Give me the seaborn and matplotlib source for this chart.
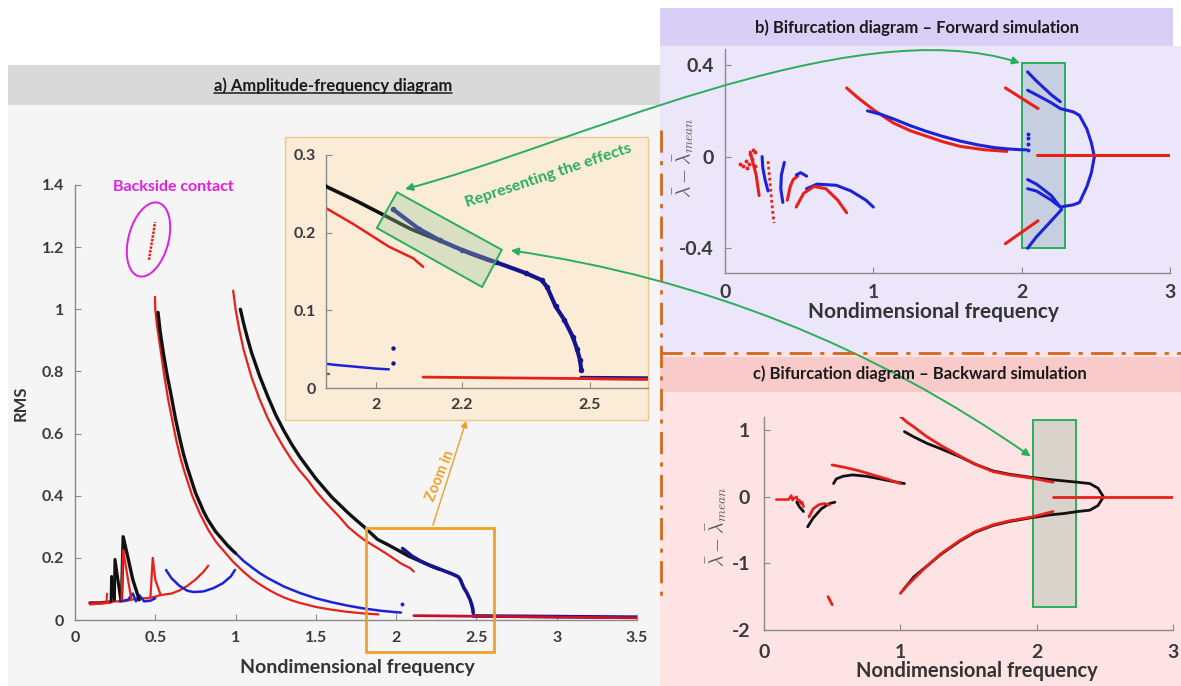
import numpy as np
import matplotlib
matplotlib.use("Agg")
import matplotlib.pyplot as plt
import seaborn as sns
from matplotlib.patches import Rectangle, Polygon, FancyArrowPatch
from matplotlib.path import Path
from matplotlib.lines import Line2D

# ---------------- data ----------------
# a) amplitude-frequency diagram (RMS vs nondimensional frequency)
a_red1_x = [0.498, 0.50, 0.51, 0.53, 0.555, 0.58, 0.605, 0.63, 0.655, 0.68, 0.705, 0.73, 0.755, 0.78, 0.805, 0.83,
            0.855, 0.88, 0.905, 0.93, 0.955, 0.98, 1.0, 1.05, 1.1, 1.15, 1.2, 1.25, 1.3, 1.35, 1.4, 1.5, 1.6, 1.7, 1.8, 1.89]
a_red1_y = [1.04, 1.0, 0.95, 0.88, 0.79, 0.71, 0.645, 0.58, 0.525, 0.48, 0.44, 0.40, 0.37, 0.34, 0.315, 0.29,
            0.27, 0.25, 0.235, 0.22, 0.205, 0.19, 0.18, 0.155, 0.133, 0.115, 0.099, 0.085, 0.073, 0.063, 0.055, 0.042, 0.033, 0.026, 0.021, 0.018]
a_blk1_x = [0.517, 0.53, 0.55, 0.575, 0.6, 0.625, 0.65, 0.675, 0.7, 0.725, 0.75, 0.775, 0.8, 0.825, 0.85, 0.875,
            0.9, 0.925, 0.95, 0.975, 1.0]
a_blk1_y = [0.99, 0.93, 0.86, 0.785, 0.72, 0.65, 0.59, 0.535, 0.49, 0.45, 0.41, 0.38, 0.35, 0.325, 0.305, 0.285,
            0.27, 0.255, 0.24, 0.227, 0.215]
a_blu1_x = [1.0, 1.05, 1.1, 1.15, 1.2, 1.3, 1.4, 1.5, 1.6, 1.7, 1.8, 1.9, 2.0, 2.03]
a_blu1_y = [0.215, 0.19, 0.17, 0.151, 0.135, 0.108, 0.087, 0.07, 0.057, 0.046, 0.037, 0.030, 0.025, 0.024]
a_red2_x = [0.985, 1.0, 1.025, 1.05, 1.1, 1.15, 1.2, 1.25, 1.3, 1.35, 1.4, 1.45, 1.5, 1.55, 1.6, 1.65, 1.7, 1.75,
            1.8, 1.885, 1.95, 2.03, 2.087, 2.11]
a_red2_y = [1.06, 1.0, 0.93, 0.87, 0.78, 0.71, 0.65, 0.60, 0.555, 0.515, 0.48, 0.45, 0.415, 0.385, 0.357, 0.33,
            0.30, 0.278, 0.258, 0.231, 0.21, 0.182, 0.167, 0.156]
a_blk2_x = [1.03, 1.05, 1.075, 1.1, 1.15, 1.2, 1.25, 1.3, 1.35, 1.4, 1.45, 1.5, 1.55, 1.6, 1.65, 1.7, 1.75, 1.8,
            1.885, 1.95, 2.01, 2.08, 2.165, 2.22, 2.27]
a_blk2_y = [1.0, 0.955, 0.905, 0.86, 0.785, 0.72, 0.66, 0.61, 0.565, 0.525, 0.49, 0.455, 0.425, 0.395, 0.37, 0.345,
            0.322, 0.30, 0.259, 0.242, 0.225, 0.205, 0.186, 0.173, 0.163]
a_blu2_x = [2.04, 2.1, 2.15, 2.2, 2.28, 2.35, 2.387, 2.40, 2.42, 2.44, 2.46, 2.47, 2.477, 2.48]
a_blu2_y = [0.23, 0.205, 0.19, 0.178, 0.162, 0.148, 0.139, 0.13, 0.105, 0.088, 0.066, 0.05, 0.036, 0.023]
a_bluflat_x = [2.48, 3.5]
a_bluflat_y = [0.013, 0.009]
a_redflat_x = [2.11, 3.5]
a_redflat_y = [0.014, 0.007]
a_bludot_x = [2.039, 2.039]
a_bludot_y = [0.052, 0.032]
a_back_x = [0.461, 0.47, 0.48, 0.49, 0.498]
a_back_y = [1.159, 1.19, 1.22, 1.25, 1.281]
# low frequency cluster
a_base_x = [0.093, 0.15, 0.22]
a_base_y = [0.055, 0.055, 0.058]
a_redlow_x = [0.093, 0.2, 0.25, 0.3, 0.35, 0.4, 0.45, 0.5, 0.53]
a_redlow_y = [0.05, 0.055, 0.06, 0.06, 0.065, 0.07, 0.07, 0.075, 0.08]
a_k1_x = [0.225, 0.228, 0.245]
a_k1_y = [0.06, 0.14, 0.07]
a_k2_x = [0.245, 0.249, 0.285]
a_k2_y = [0.065, 0.195, 0.065]
a_k3_x = [0.29, 0.30, 0.33, 0.36, 0.40]
a_k3_y = [0.07, 0.268, 0.2, 0.13, 0.065]
a_r1_x = [0.29, 0.30, 0.33, 0.35]
a_r1_y = [0.065, 0.225, 0.13, 0.07]
a_r2_x = [0.47, 0.484, 0.50, 0.53]
a_r2_y = [0.075, 0.20, 0.13, 0.085]
a_r3_x = [0.195, 0.20]
a_r3_y = [0.055, 0.085]
a_bl_x = [0.28, 0.33, 0.36, 0.38, 0.40, 0.43, 0.47, 0.50]
a_bl_y = [0.06, 0.065, 0.085, 0.06, 0.08, 0.06, 0.062, 0.07]
a_bu_x = [0.567, 0.6, 0.65, 0.70, 0.74, 0.80, 0.86, 0.92, 0.97, 0.996]
a_bu_y = [0.161, 0.135, 0.11, 0.094, 0.09, 0.092, 0.102, 0.118, 0.14, 0.161]
a_rarc_x = [0.53, 0.6, 0.65, 0.7, 0.75, 0.8, 0.83]
a_rarc_y = [0.08, 0.085, 0.095, 0.11, 0.13, 0.155, 0.175]
# tilted highlight box inside the inset (data corners)
a_box_x = [2.049, 2.294, 2.248, 2.002]
a_box_y = [0.252, 0.178, 0.130, 0.206]

# b) forward simulation
b_red_x = [0.82, 0.9, 1.0, 1.135, 1.25, 1.36, 1.47, 1.585, 1.75, 1.9]
b_red_y = [0.30, 0.255, 0.205, 0.147, 0.113, 0.089, 0.065, 0.045, 0.03, 0.023]
b_blu_x = [0.96, 1.05, 1.135, 1.25, 1.36, 1.47, 1.585, 1.7, 1.81, 1.9, 2.0, 2.03]
b_blu_y = [0.20, 0.185, 0.165, 0.135, 0.11, 0.088, 0.068, 0.052, 0.04, 0.034, 0.03, 0.03]
b_bdot_x = [2.04, 2.04, 2.045, 2.045]
b_bdot_y = [0.03, 0.055, 0.08, 0.1]
b_up1_x = [2.04, 2.1, 2.2, 2.26]
b_up1_y = [0.37, 0.33, 0.27, 0.24]
b_up2_x = [2.04, 2.1, 2.2, 2.26, 2.35, 2.39, 2.44, 2.47, 2.49]
b_up2_y = [0.29, 0.27, 0.235, 0.21, 0.195, 0.18, 0.12, 0.06, 0.0]
b_lo1_x = [2.04, 2.1, 2.2, 2.26]
b_lo1_y = [-0.10, -0.12, -0.17, -0.22]
b_lo2_x = [2.04, 2.1, 2.2, 2.26, 2.35, 2.39, 2.44, 2.47, 2.49]
b_lo2_y = [-0.14, -0.15, -0.19, -0.22, -0.21, -0.20, -0.13, -0.07, 0.0]
b_lo3_x = [2.04, 2.1, 2.2, 2.27]
b_lo3_y = [-0.40, -0.35, -0.28, -0.23]
b_rs1_x = [1.89, 2.0, 2.11]
b_rs1_y = [0.30, 0.255, 0.21]
b_rs2_x = [1.89, 2.0, 2.11]
b_rs2_y = [-0.38, -0.33, -0.28]
b_rflat_x = [2.1, 3.0]
b_rflat_y = [0.006, 0.006]
b_rdots_x = [0.10, 0.12, 0.14, 0.15, 0.16, 0.17, 0.18, 0.19, 0.20, 0.20]
b_rdots_y = [-0.03, -0.04, -0.02, -0.05, -0.03, 0.01, -0.01, 0.03, -0.04, 0.02]
b_ra_x = [0.17, 0.19, 0.21, 0.23]
b_ra_y = [0.02, -0.03, -0.08, -0.17]
b_bb_x = [0.25, 0.255, 0.27, 0.29]
b_bb_y = [0.0, -0.05, -0.10, -0.15]
b_rc_x = [0.29, 0.30, 0.31, 0.32, 0.33]
b_rc_y = [-0.02, -0.09, -0.16, -0.23, -0.29]
b_bd_x = [0.40, 0.38, 0.376, 0.39]
b_bd_y = [-0.025, -0.08, -0.14, -0.20]
b_re_x = [0.42, 0.44, 0.46, 0.49]
b_re_y = [-0.19, -0.13, -0.10, -0.085]
b_bf_x = [0.48, 0.51, 0.55]
b_bf_y = [-0.08, -0.07, -0.085]
b_bbig_x = [0.55, 0.62, 0.75, 0.85, 0.95, 1.0]
b_bbig_y = [-0.14, -0.12, -0.125, -0.15, -0.19, -0.22]
b_rbig_x = [0.48, 0.53, 0.60, 0.68, 0.76, 0.82]
b_rbig_y = [-0.22, -0.16, -0.13, -0.14, -0.19, -0.245]

# c) backward simulation
c_red_up_x = [1.0, 1.05, 1.1, 1.19, 1.3, 1.44, 1.55, 1.68, 1.8, 1.97, 2.12]
c_red_up_y = [1.21, 1.12, 1.05, 0.91, 0.77, 0.61, 0.49, 0.38, 0.33, 0.28, 0.22]
c_red_lo_x = [1.0, 1.05, 1.1, 1.19, 1.3, 1.44, 1.55, 1.68, 1.8, 1.97, 2.12]
c_red_lo_y = [-1.45, -1.33, -1.23, -1.05, -0.85, -0.65, -0.52, -0.42, -0.36, -0.30, -0.22]
c_blk_x = [1.03, 1.1, 1.2, 1.3, 1.44, 1.55, 1.68, 1.8, 1.97, 2.1, 2.2, 2.3, 2.39, 2.45, 2.49,
           2.45, 2.39, 2.3, 2.2, 2.1, 1.97, 1.8, 1.68, 1.55, 1.44, 1.3, 1.2, 1.1, 1.02]
c_blk_y = [0.98, 0.9, 0.8, 0.72, 0.6, 0.49, 0.39, 0.34, 0.29, 0.26, 0.24, 0.22, 0.20, 0.13, 0.0,
           -0.13, -0.20, -0.22, -0.25, -0.27, -0.31, -0.37, -0.43, -0.53, -0.66, -0.86, -1.03, -1.2, -1.40]
c_rflat_x = [2.12, 3.0]
c_rflat_y = [0.0, 0.0]
c_rmid_x = [0.5, 0.6, 0.7, 0.8, 0.9, 1.0]
c_rmid_y = [0.48, 0.44, 0.39, 0.33, 0.27, 0.2]
c_kmid_x = [0.51, 0.53, 0.58, 0.65, 0.75, 0.85, 0.95, 1.03]
c_kmid_y = [0.2, 0.27, 0.31, 0.33, 0.31, 0.27, 0.23, 0.2]
c_rshort_x = [0.47, 0.50]
c_rshort_y = [-1.5, -1.62]
c_rbase_x = [0.09, 0.14, 0.18, 0.2, 0.21, 0.22, 0.24, 0.25, 0.26, 0.27, 0.28, 0.29]
c_rbase_y = [-0.04, -0.04, -0.04, 0.02, -0.05, -0.02, 0.0, -0.08, -0.05, -0.1, -0.08, -0.15]
c_k1_x = [0.24, 0.26, 0.29]
c_k1_y = [-0.08, -0.15, -0.22]
c_k2_x = [0.32, 0.36, 0.42, 0.48, 0.52]
c_k2_y = [-0.45, -0.32, -0.18, -0.1, -0.08]
c_r2_x = [0.33, 0.36, 0.40, 0.44, 0.48]
c_r2_y = [-0.30, -0.18, -0.12, -0.10, -0.12]

RED = "#e8201a"
BLK = "#111111"
BLU = "#1c22d6"
NAVY = "#14148f"
GRN = "#2aae5c"
ORG = "#f0a028"

W, H = 1181, 686


def fx(px):
    return px / W


def fy(py):
    return 1 - py / H


def fig_rect(x0, y0, x1, y1, **kw):
    fig.add_artist(Rectangle((fx(x0), fy(y1)), (x1 - x0) / W, (y1 - y0) / H,
                             transform=fig.transFigure, zorder=-10, **kw))


def make_axes(l, t, r, b):
    return fig.add_axes([fx(l), fy(b), (r - l) / W, (b - t) / H])


def line(ax, xs, ys, color, lw, ls="-", z=2):
    sns.lineplot(x=xs, y=ys, ax=ax, color=color, linewidth=lw, linestyle=ls,
                 sort=False, estimator=None, zorder=z)


def dots(ax, xs, ys, color, s=6):
    sns.scatterplot(x=xs, y=ys, ax=ax, color=color, s=s, linewidth=0, zorder=3)


def style(ax, fs, pad):
    ax.set_facecolor("none")
    for s in ["top", "right"]:
        ax.spines[s].set_visible(False)
    for s in ["left", "bottom"]:
        ax.spines[s].set_color("#8a8a8a")
        ax.spines[s].set_linewidth(1.0)
    ax.tick_params(direction="in", length=4, width=0.8, color="#8a8a8a",
                   labelsize=fs, labelcolor="#3a3a3a", pad=pad,
                   left=True, bottom=True)
    for lab in ax.get_xticklabels() + ax.get_yticklabels():
        lab.set_fontweight("bold")
    ax.set_xlabel("")
    ax.set_ylabel("")
    ax.grid(False)


sns.set_theme(style="white")
plt.rcParams["font.family"] = ["Lato", "DejaVu Sans"]
plt.rcParams["font.weight"] = "bold"
plt.rcParams["mathtext.fontset"] = "cm"

fig = plt.figure(figsize=(11.81, 6.86), dpi=100)
fig.patch.set_facecolor("white")

# ---- backgrounds ----
fig_rect(8, 105, 660, 686, facecolor="#f5f5f5", edgecolor="none")
fig_rect(8, 65, 660, 105, facecolor="#d9d9d9", edgecolor="none")
fig_rect(660, 46, 1181, 352, facecolor="#ece6fa", edgecolor="none")
fig_rect(660, 8, 1173, 46, facecolor="#d9cef5", edgecolor="none")
fig_rect(660, 352, 1181, 686, facecolor="#fde3e3", edgecolor="none")
fig_rect(660, 357, 1181, 392, facecolor="#f9caca", edgecolor="none")
fig_rect(285, 137, 648, 420, facecolor="#fbecd8", edgecolor="#f2c68e", linewidth=1.0)

# dash-dot separators
fig.add_artist(Line2D([fx(660), fx(1181)], [fy(353), fy(353)], transform=fig.transFigure,
                      color="#d2691e", lw=2, ls=(0, (8, 3, 1.5, 3))))
fig.add_artist(Line2D([fx(661), fx(661)], [fy(130), fy(600)], transform=fig.transFigure,
                      color="#d2691e", lw=2, ls=(0, (8, 3, 1.5, 3))))

# ---- a) main axes ----
axa = make_axes(75, 185, 637, 620)
line(axa, a_base_x, a_base_y, "#a01020", 2.5)
line(axa, a_redlow_x, a_redlow_y, RED, 1.6)
line(axa, a_r3_x, a_r3_y, RED, 1.4)
line(axa, a_bl_x, a_bl_y, BLU, 1.8)
line(axa, a_k1_x, a_k1_y, BLK, 2.2)
line(axa, a_k2_x, a_k2_y, BLK, 2.2)
line(axa, a_k3_x, a_k3_y, BLK, 2.4)
line(axa, a_r1_x, a_r1_y, RED, 1.6)
line(axa, a_r2_x, a_r2_y, RED, 1.6)
line(axa, a_rarc_x, a_rarc_y, RED, 1.6)
line(axa, a_bu_x, a_bu_y, BLU, 1.8)
line(axa, a_red1_x, a_red1_y, RED, 1.6)
line(axa, a_blk1_x, a_blk1_y, BLK, 2.4, z=3)
line(axa, a_blu1_x, a_blu1_y, BLU, 1.8)
line(axa, a_red2_x, a_red2_y, RED, 1.6)
line(axa, a_blk2_x, a_blk2_y, BLK, 2.4, z=3)
line(axa, a_blu2_x, a_blu2_y, NAVY, 2.6, z=4)
line(axa, a_bluflat_x, a_bluflat_y, NAVY, 2.6)
line(axa, a_redflat_x, a_redflat_y, "#c8102e", 2.0, z=3)
dots(axa, a_bludot_x[:1], a_bludot_y[:1], BLU, 8)
line(axa, a_back_x, a_back_y, RED, 1.8, ls=(0, (1, 0.5)))
axa.set_xlim(0, 3.5)
axa.set_ylim(0, 1.4)
axa.set_xticks([0, 0.5, 1, 1.5, 2, 2.5, 3, 3.5])
axa.set_xticklabels(["0", "0.5", "1", "1.5", "2", "2.5", "3", "3.5"])
axa.set_yticks([0, 0.2, 0.4, 0.6, 0.8, 1.0, 1.2, 1.4])
axa.set_yticklabels(["0", "0.2", "0.4", "0.6", "0.8", "1", "1.2", "1.4"])
style(axa, 11.5, 8)
axa.add_patch(Rectangle((1.81, -0.103), 0.8, 0.399, fill=False, edgecolor=ORG,
                        lw=2, clip_on=False, zorder=5))

# backside contact ellipse (drawn in pixel space)
t = np.linspace(0, 2 * np.pi, 120)
th = np.deg2rad(15)
u, v = 20 * np.cos(t), 38 * np.sin(t)
ex = 148.5 + u * np.cos(th) - v * np.sin(th)
ey = 239.5 + u * np.sin(th) + v * np.cos(th)
fig.add_artist(Line2D(fx(ex), fy(ey), transform=fig.transFigure, color="#e020e0", lw=1.4))

# ---- a) inset ----
axi = make_axes(326, 155, 648, 388)
line(axi, a_red1_x, a_red1_y, RED, 1.6)
line(axi, a_red2_x, a_red2_y, RED, 1.8)
line(axi, a_blk2_x, a_blk2_y, BLK, 2.6, z=3)
line(axi, a_blu1_x, a_blu1_y, BLU, 1.8)
line(axi, a_redflat_x, a_redflat_y, RED, 2.0, z=3)
line(axi, a_bluflat_x, a_bluflat_y, NAVY, 3.0)
sns.lineplot(x=a_blu2_x, y=a_blu2_y, ax=axi, color=NAVY, linewidth=3.0, sort=False,
             estimator=None, marker="o", markersize=4, markeredgewidth=0, zorder=4)
dots(axi, a_bludot_x, a_bludot_y, NAVY, 10)
axi.add_patch(Polygon(list(zip(a_box_x, a_box_y)), closed=True, facecolor="#9cc79a",
                      alpha=0.35, edgecolor="none", zorder=5))
axi.add_patch(Polygon(list(zip(a_box_x, a_box_y)), closed=True, fill=False,
                      edgecolor=GRN, lw=1.4, zorder=6))
axi.set_xlim(1.883, 2.636)
axi.set_ylim(0, 0.3)
axi.set_xticks([2, 2.2, 2.5])
axi.set_xticklabels(["2", "2.2", "2.5"])
axi.set_yticks([0, 0.1, 0.2, 0.3])
axi.set_yticklabels(["0", "0.1", "0.2", "0.3"])
style(axi, 11.5, 7)

# ---- b) forward ----
axb = make_axes(725, 49, 1170, 273)
axb.add_patch(Rectangle((2.0, -0.4), 0.29, 0.807, facecolor="#c6cfe0", edgecolor=GRN,
                        lw=1.4, zorder=1))
for xs, ys, c in [(b_red_x, b_red_y, RED), (b_blu_x, b_blu_y, BLU),
                  (b_up1_x, b_up1_y, BLU), (b_up2_x, b_up2_y, BLU),
                  (b_lo1_x, b_lo1_y, BLU), (b_lo2_x, b_lo2_y, BLU),
                  (b_lo3_x, b_lo3_y, BLU), (b_rs1_x, b_rs1_y, RED),
                  (b_rs2_x, b_rs2_y, RED), (b_rflat_x, b_rflat_y, RED),
                  (b_ra_x, b_ra_y, RED), (b_bb_x, b_bb_y, BLU),
                  (b_bd_x, b_bd_y, BLU), (b_re_x, b_re_y, RED),
                  (b_bf_x, b_bf_y, BLU), (b_bbig_x, b_bbig_y, BLU),
                  (b_rbig_x, b_rbig_y, RED)]:
    line(axb, xs, ys, c, 2.2)
line(axb, b_rc_x, b_rc_y, RED, 2.0, ls=(0, (1, 1)))
dots(axb, b_rdots_x, b_rdots_y, RED, 8)
dots(axb, b_bdot_x, b_bdot_y, BLU, 8)
axb.set_xlim(0, 3)
axb.set_ylim(-0.508, 0.47)
axb.set_xticks([0, 1, 2, 3])
axb.set_xticklabels(["0", "1", "2", "3"])
axb.set_yticks([-0.4, 0, 0.4])
axb.set_yticklabels(["-0.4", "0", "0.4"])
style(axb, 14, 8)

# ---- c) backward ----
axc = make_axes(764, 417, 1173, 630)
axc.add_patch(Rectangle((1.97, -1.65), 0.32, 2.81, facecolor="#d9d3cc", edgecolor=GRN,
                        lw=1.4, zorder=1))
line(axc, c_blk_x, c_blk_y, BLK, 2.0)
line(axc, c_red_up_x, c_red_up_y, RED, 2.0, z=3)
line(axc, c_red_lo_x, c_red_lo_y, RED, 2.0, z=3)
line(axc, c_rflat_x, c_rflat_y, RED, 2.0)
line(axc, c_kmid_x, c_kmid_y, BLK, 2.0)
line(axc, c_rmid_x, c_rmid_y, RED, 2.0, z=3)
line(axc, c_rshort_x, c_rshort_y, RED, 2.0)
line(axc, c_rbase_x, c_rbase_y, RED, 1.8)
line(axc, c_k1_x, c_k1_y, BLK, 2.0)
line(axc, c_k2_x, c_k2_y, BLK, 2.0)
line(axc, c_r2_x, c_r2_y, RED, 2.0, z=3)
axc.set_xlim(0, 3)
axc.set_ylim(-2, 1.2)
axc.set_xticks([0, 1, 2, 3])
axc.set_xticklabels(["0", "1", "2", "3"])
axc.set_yticks([-2, -1, 0, 1])
axc.set_yticklabels(["-2", "-1", "0", "1"])
style(axc, 14, 10)

# ---- texts ----
ta = fig.text(fx(333), fy(86), "a) Amplitude-frequency diagram", ha="center", va="center",
              fontsize=12, color="#1a1a1a")
fig.text(fx(917), fy(28), "b) Bifurcation diagram \u2013 Forward simulation", ha="center",
         va="center", fontsize=12, color="#1a1a1a")
fig.text(fx(920), fy(374), "c) Bifurcation diagram \u2013 Backward simulation", ha="center",
         va="center", fontsize=12, color="#1a1a1a")
fig.text(fx(21), fy(403), "RMS", rotation=90, ha="center", va="center", fontsize=12,
         color="#333333")
fig.text(fx(357), fy(668), "Nondimensional frequency", ha="center", va="center",
         fontsize=14, color="#333333")
fig.text(fx(933), fy(312), "Nondimensional frequency", ha="center", va="center",
         fontsize=15, color="#333333")
fig.text(fx(977), fy(671), "Nondimensional frequency", ha="center", va="center",
         fontsize=14.5, color="#333333")
fig.text(fx(684), fy(158), r"$\bar{\lambda} - \bar{\lambda}_{mean}$", rotation=90,
         ha="center", va="center", fontsize=14, color="#5a5a5a")
fig.text(fx(717), fy(527), r"$\bar{\lambda} - \bar{\lambda}_{mean}$", rotation=90,
         ha="center", va="center", fontsize=14, color="#5a5a5a")
fig.text(fx(173), fy(187), "Backside contact", ha="center", va="center", fontsize=11.5,
         color="#e020e0")
fig.text(fx(548), fy(176), "Representing the effects", ha="center", va="center",
         fontsize=11.5, color=GRN, rotation=18.5)
fig.text(fx(440), fy(476), "Zoom in", ha="center", va="center", fontsize=10.5,
         color=ORG, rotation=68)

# ---- arrows ----
p1 = Path([(fx(405), fy(189)), (fx(560), fy(150)), (fx(850), fy(8)), (fx(1020), fy(63))],
          [Path.MOVETO, Path.CURVE4, Path.CURVE4, Path.CURVE4])
fig.add_artist(FancyArrowPatch(path=p1, arrowstyle="<|-|>", mutation_scale=11, color=GRN,
                               lw=1.4, transform=fig.transFigure))
fig.add_artist(FancyArrowPatch((fx(508), fy(250)), (fx(1033), fy(458)),
                               connectionstyle="arc3,rad=-0.12", arrowstyle="<|-|>",
                               mutation_scale=11, color=GRN, lw=1.4,
                               transform=fig.transFigure))
fig.add_artist(FancyArrowPatch((fx(432), fy(528)), (fx(467), fy(418)), arrowstyle="-|>",
                               mutation_scale=10, color=ORG, lw=1.0,
                               transform=fig.transFigure))

# underline of title a
fig.canvas.draw()
bb = ta.get_window_extent().transformed(fig.transFigure.inverted())
fig.add_artist(Line2D([bb.x0, bb.x1], [bb.y0 + 0.002, bb.y0 + 0.002],
                      transform=fig.transFigure, color="#1a1a1a", lw=1.1))

fig.savefig("out.png", dpi=100)
